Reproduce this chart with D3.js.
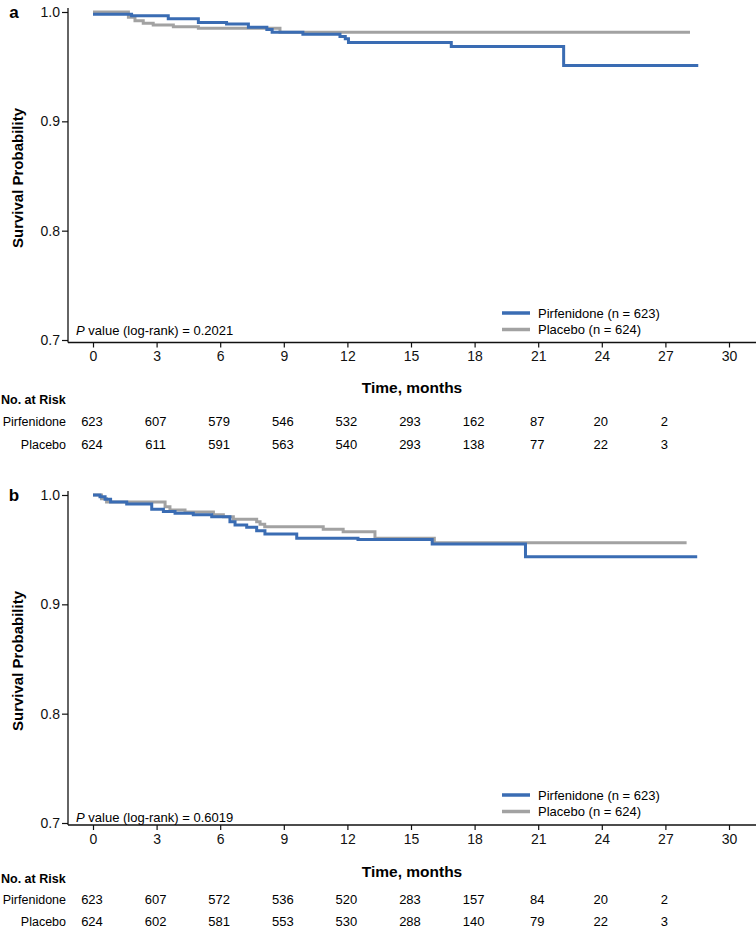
<!DOCTYPE html>
<html>
<head>
<meta charset="utf-8">
<script src="https://cdn.jsdelivr.net/npm/d3@7"></script>
<style>
  html, body { margin: 0; padding: 0; background: #fff; }
  svg { display: block; font-family: "Liberation Sans", Arial, sans-serif; }
</style>
</head>
<body>
<svg id="chart" width="756" height="930"></svg>
<script>
// ---------------- DATA ----------------
const xTicks = [0, 3, 6, 9, 12, 15, 18, 21, 24, 27, 30];
const yTicks = [0.7, 0.8, 0.9, 1.0];
const riskTimes = [0, 3, 6, 9, 12, 15, 18, 21, 24, 27];
const seriesNames = ["Pirfenidone", "Placebo"];
const legendLabels = ["Pirfenidone (n = 623)", "Placebo (n = 624)"];
const panelLetters = ["a", "b"];
const pValues = ["0.2021", "0.6019"];

// Kaplan–Meier steps: [time (months), survival probability]
const pirfA = [[0, 0.998], [1.82, 0.9965], [3.55, 0.9938], [4.97, 0.9905], [6.3, 0.989],
  [7.33, 0.986], [8.2, 0.984], [8.45, 0.9815], [9.9, 0.9797], [11.65, 0.9775],
  [11.9, 0.9755], [12.05, 0.972], [16.9, 0.9685], [22.2, 0.951], [28.55, 0.951]];
const placA = [[0, 1.0], [1.67, 0.9951], [1.98, 0.992], [2.37, 0.9896], [2.84, 0.9881],
  [3.79, 0.9866], [4.97, 0.9851], [8.82, 0.9814], [28.16, 0.9814]];
const pirfB = [[0, 1.0], [0.33, 0.9985], [0.57, 0.996], [0.83, 0.9936], [1.59, 0.9918],
  [2.77, 0.9869], [3.32, 0.985], [3.87, 0.9832], [4.73, 0.982], [5.6, 0.98],
  [6.46, 0.9756], [6.7, 0.9726], [7.25, 0.9704], [7.72, 0.9674], [8.11, 0.9643],
  [9.61, 0.9604], [12.5, 0.9592], [16.0, 0.9552], [20.4, 0.9436], [28.5, 0.9436]];
const placB = [[0, 1.0], [0.4, 0.9966], [0.64, 0.9936], [3.4, 0.9893], [3.63, 0.9863],
  [4.34, 0.9845], [5.68, 0.982], [6.15, 0.98], [6.62, 0.9778], [7.72, 0.9756],
  [7.88, 0.9732], [8.1, 0.971], [10.86, 0.9686], [11.8, 0.9664], [13.3, 0.9604],
  [16.1, 0.9564], [28.0, 0.9564]];

const riskPirfA = [623, 607, 579, 546, 532, 293, 162, 87, 20, 2];
const riskPlacA = [624, 611, 591, 563, 540, 293, 138, 77, 22, 3];
const riskPirfB = [623, 607, 572, 536, 520, 283, 157, 84, 20, 2];
const riskPlacB = [624, 602, 581, 553, 530, 288, 140, 79, 22, 3];

const colors = ["#3a6cb3", "#a2a2a2"];

// ---------------- LAYOUT ----------------
const panels = [
  { letter: panelLetters[0], p: pValues[0], curves: [pirfA, placA], risk: [riskPirfA, riskPlacA],
    top: 12, bottom: 340, axisY: 342.5, pY: 335, legY: 313, headY: 403.5, rowY: [426, 449], titleY: 393 },
  { letter: panelLetters[1], p: pValues[1], curves: [pirfB, placB], risk: [riskPirfB, riskPlacB],
    top: 495, bottom: 823, axisY: 825, pY: 821.5, legY: 795, headY: 882.5, rowY: [903.5, 926], titleY: 877 }
];

const svg = d3.select("#chart");
const x = d3.scaleLinear().domain([0, 30]).range([93, 729]);
const axisX0 = 68;
const FONT = "Liberation Sans, Arial, sans-serif";

panels.forEach(P => {
  const g = svg.append("g");
  const y = d3.scaleLinear().domain([0.7, 1.0]).range([P.bottom, P.top]);

  // panel letter
  g.append("text").attr("x", 14).attr("y", P.top + 6).attr("text-anchor", "middle")
    .attr("font-size", 17).attr("font-weight", "bold").text(P.letter);

  // y axis
  const yAxis = d3.axisLeft(y).tickValues(yTicks).tickFormat(d3.format(".1f"))
    .tickSize(6).tickPadding(2).tickSizeOuter(0);
  const ya = g.append("g").attr("transform", `translate(${axisX0},0)`).call(yAxis);
  ya.select(".domain").remove();
  ya.selectAll("text").attr("font-size", 14).attr("font-family", FONT).attr("fill", "#111");
  ya.selectAll("line").attr("stroke", "#111").attr("stroke-width", 1.2);
  g.append("line").attr("x1", axisX0).attr("x2", axisX0).attr("y1", P.top - 4).attr("y2", P.axisY)
    .attr("stroke", "#111").attr("stroke-width", 1.3);

  // x axis
  const xAxis = d3.axisBottom(x).tickValues(xTicks).tickFormat(d3.format("d"))
    .tickSize(5).tickPadding(4).tickSizeOuter(0);
  const xa = g.append("g").attr("transform", `translate(0,${P.axisY})`).call(xAxis);
  xa.select(".domain").remove();
  xa.selectAll("text").attr("font-size", 14).attr("font-family", FONT).attr("fill", "#111");
  xa.selectAll("line").attr("stroke", "#111").attr("stroke-width", 1.2);
  g.append("line").attr("x1", axisX0).attr("x2", 756).attr("y1", P.axisY).attr("y2", P.axisY)
    .attr("stroke", "#111").attr("stroke-width", 1.3);

  // y title
  g.append("text")
    .attr("transform", `translate(23,${(P.top + P.bottom) / 2 + 2}) rotate(-90)`)
    .attr("text-anchor", "middle").attr("font-size", 15).attr("font-weight", "bold")
    .text("Survival Probability");

  // x title
  g.append("text").attr("x", x(15) + 1).attr("y", P.titleY).attr("text-anchor", "middle")
    .attr("font-size", 15.5).attr("font-weight", "bold").text("Time, months");

  // curves (placebo drawn first, pirfenidone on top)
  const line = d3.line().x(d => x(d[0])).y(d => y(d[1])).curve(d3.curveStepAfter);
  [1, 0].forEach(i => {
    g.append("path").datum(P.curves[i]).attr("d", line)
      .attr("fill", "none").attr("stroke", colors[i]).attr("stroke-width", 3)
      .attr("stroke-linejoin", "miter");
  });

  // p value
  const pt = g.append("text").attr("x", 76).attr("y", P.pY).attr("font-size", 13);
  pt.append("tspan").attr("font-style", "italic").text("P");
  pt.append("tspan").text(" value (log-rank) = " + P.p);

  // legend
  legendLabels.forEach((lab, i) => {
    const ly = P.legY + i * 16.5;
    g.append("line").attr("x1", 502).attr("x2", 530).attr("y1", ly).attr("y2", ly)
      .attr("stroke", colors[i]).attr("stroke-width", 3.5);
    g.append("text").attr("x", 538).attr("y", ly + 4.5).attr("font-size", 13).text(lab);
  });

  // risk table
  g.append("text").attr("x", 1).attr("y", P.headY).attr("font-size", 12.5)
    .attr("font-weight", "bold").text("No. at Risk");
  seriesNames.forEach((nm, i) => {
    g.append("text").attr("x", 66).attr("y", P.rowY[i]).attr("text-anchor", "end")
      .attr("font-size", 12.5).text(nm);
    g.selectAll(null).data(P.risk[i]).enter().append("text")
      .attr("x", (d, j) => x(riskTimes[j]) - 1).attr("y", P.rowY[i])
      .attr("text-anchor", "middle").attr("font-size", 13).text(d => d);
  });
});
</script>
</body>
</html>
